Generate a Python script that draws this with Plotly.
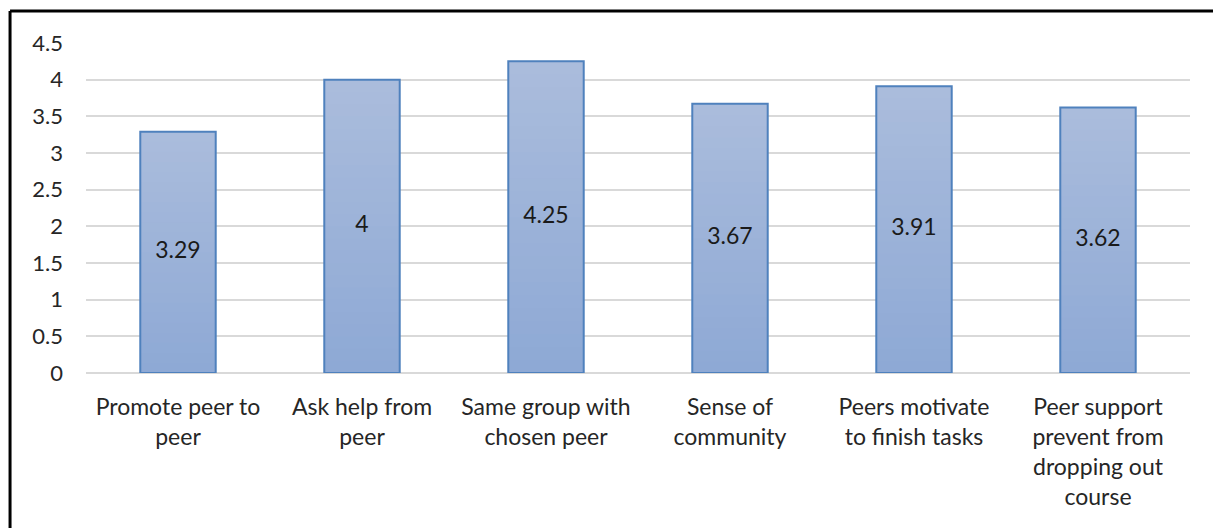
import plotly.graph_objects as go

categories = [
    "Promote peer to<br>peer",
    "Ask help from<br>peer",
    "Same group with<br>chosen peer",
    "Sense of<br>community",
    "Peers motivate<br>to finish tasks",
    "Peer support<br>prevent from<br>dropping out<br>course",
]
scores = [3.29, 4, 4.25, 3.67, 3.91, 3.62]
score_labels = ["3.29", "4", "4.25", "3.67", "3.91", "3.62"]
y_ticks = [0, 0.5, 1, 1.5, 2, 2.5, 3, 3.5, 4, 4.5]
y_tick_labels = ["0", "0.5", "1", "1.5", "2", "2.5", "3", "3.5", "4", "4.5"]

FONT = "Lato"
TOP_RGB = (170, 188, 220)
BOTTOM_RGB = (142, 169, 213)
STEPS = 24
BAR_GAP = 0.59

fig = go.Figure()

# vertical gradient: stacked overlay bars, each a fraction of the score
for k in range(STEPS):
    frac = (STEPS - k) / STEPS
    t = k / (STEPS - 1)
    rgb = tuple(round(a + (b - a) * t) for a, b in zip(TOP_RGB, BOTTOM_RGB))
    fig.add_trace(go.Bar(
        x=categories,
        y=[v * frac for v in scores],
        marker=dict(color="rgb(%d,%d,%d)" % rgb, line=dict(width=0)),
        hoverinfo="skip",
        showlegend=False,
    ))

# bar outlines
fig.add_trace(go.Bar(
    x=categories,
    y=scores,
    marker=dict(color="rgba(0,0,0,0)", line=dict(color="#4F81BD", width=2)),
    showlegend=False,
))

# value labels in the middle of each bar
fig.add_trace(go.Scatter(
    x=categories,
    y=[v / 2 for v in scores],
    text=score_labels,
    mode="text",
    textfont=dict(family=FONT, size=23, color="#1a1a1a"),
    showlegend=False,
))

fig.update_layout(
    width=1213,
    height=528,
    barmode="overlay",
    bargap=BAR_GAP,
    plot_bgcolor="white",
    paper_bgcolor="white",
    margin=dict(l=86, r=23, t=43, b=155),
    font=dict(family=FONT, size=23, color="#262626"),
    xaxis=dict(
        showline=False,
        showgrid=False,
        ticks="",
        tickfont=dict(family=FONT, size=23, color="#262626"),
        ticklabelstandoff=18,
    ),
    yaxis=dict(
        range=[0, 4.5],
        tickvals=y_ticks,
        ticktext=y_tick_labels,
        showgrid=True,
        gridcolor="#D9D9D9",
        gridwidth=2,
        zeroline=True,
        zerolinecolor="#D9D9D9",
        zerolinewidth=2,
        showline=False,
        ticks="",
        tickfont=dict(family=FONT, size=22, color="#262626"),
        ticklabelstandoff=22,
    ),
    shapes=[
        dict(type="line", xref="paper", yref="paper",
             x0=-0.0688, x1=1.03, y0=1.097, y1=1.097,
             line=dict(color="black", width=3)),
        dict(type="line", xref="paper", yref="paper",
             x0=-0.0688, x1=-0.0688, y0=1.097, y1=-0.5,
             line=dict(color="black", width=3)),
    ],
)

fig.write_html("out.html")
